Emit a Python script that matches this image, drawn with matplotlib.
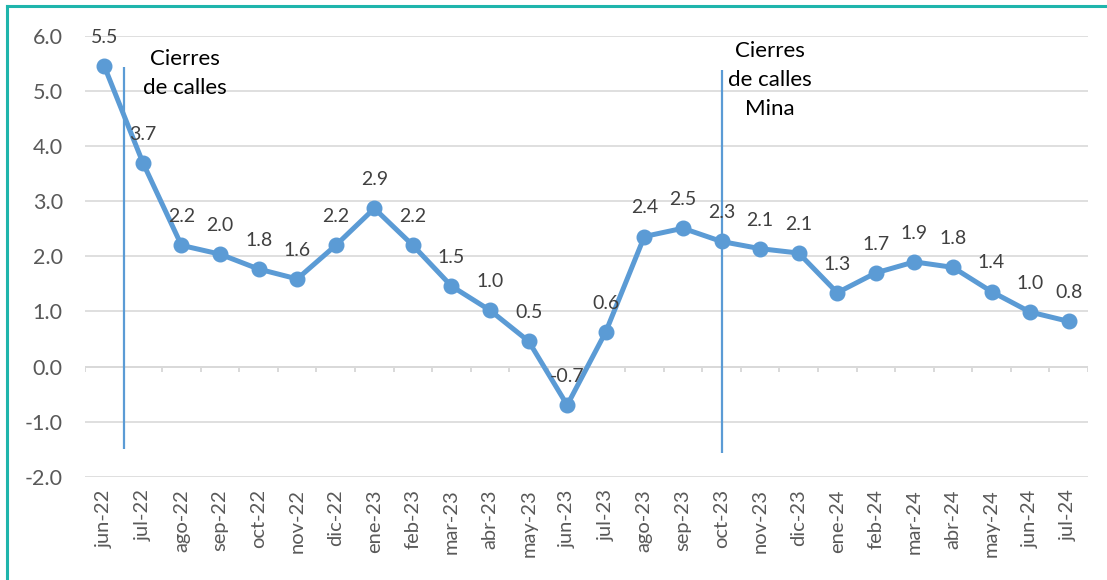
import numpy as np
import matplotlib
matplotlib.use("Agg")
import matplotlib.pyplot as plt
from matplotlib.lines import Line2D

meses = ["jun-22", "jul-22", "ago-22", "sep-22", "oct-22", "nov-22", "dic-22",
         "ene-23", "feb-23", "mar-23", "abr-23", "may-23", "jun-23", "jul-23",
         "ago-23", "sep-23", "oct-23", "nov-23", "dic-23", "ene-24", "feb-24",
         "mar-24", "abr-24", "may-24", "jun-24", "jul-24"]
valores = [5.45, 3.70, 2.20, 2.04, 1.77, 1.59, 2.20, 2.87, 2.20, 1.46, 1.02,
           0.46, -0.70, 0.63, 2.36, 2.51, 2.27, 2.14, 2.06, 1.34, 1.70, 1.90,
           1.80, 1.36, 0.99, 0.82]
etiquetas = ["5.5", "3.7", "2.2", "2.0", "1.8", "1.6", "2.2", "2.9", "2.2", "1.5",
             "1.0", "0.5", "-0.7", "0.6", "2.4", "2.5", "2.3", "2.1", "2.1", "1.3",
             "1.7", "1.9", "1.8", "1.4", "1.0", "0.8"]

# eventos: posicion en x, rango vertical, texto
eventos_x = [0.5, 16]
eventos_y0 = [-1.49, -1.56]
eventos_y1 = [5.44, 5.38]
eventos_txt = ["Cierres\nde calles", "Cierres\nde calles\nMina"]
eventos_tx = [2.1, 17.25]
eventos_ty = [5.76, 5.9]

plt.rcParams['font.family'] = ['Lato', 'DejaVu Sans']
azul = "#5B9BD5"
gris = "#595959"

fig = plt.figure(figsize=(11.07, 5.8), dpi=100)
ax = fig.add_axes([0.0768, 0.178, 0.906, 0.760])

x = np.arange(len(meses))
ax.plot(x, valores, color=azul, lw=3.6, marker="o", markersize=10.5, zorder=3)

for i in range(len(x)):
    ax.annotate(etiquetas[i], (x[i], valores[i]), xytext=(0, 14.5),
                textcoords="offset points", ha="center", va="bottom",
                fontsize=14, color="#404040", zorder=4)

for i in range(len(eventos_x)):
    ax.vlines(eventos_x[i], eventos_y0[i], eventos_y1[i], color=azul, lw=1.6, zorder=2)
    ax.text(eventos_tx[i], eventos_ty[i], eventos_txt[i], ha="center", va="top",
            fontsize=16, color="black", linespacing=1.55)

ax.set_xlim(-0.5, len(meses) - 0.5)
ax.set_ylim(-2.0, 6.0)
ax.set_yticks(np.arange(-2, 6.1, 1))
ax.set_yticklabels([f"{v:.1f}" for v in np.arange(-2, 6.1, 1)])
ax.yaxis.grid(True, color="#D9D9D9", lw=1.2)
ax.set_axisbelow(True)

# marcas del eje de categorias en 0
ax.axhline(0, color="#D9D9D9", lw=1.4, zorder=1)
bordes = np.arange(len(meses) + 1) - 0.5
ax.vlines(bordes, -0.09, 0, color="#D9D9D9", lw=1.4, zorder=1)

ax.set_xticks(x)
ax.set_xticklabels(meses, rotation=90)
ax.tick_params(axis="x", length=0, pad=9, labelsize=14.5, labelcolor=gris)
ax.tick_params(axis="y", length=0, pad=16, labelsize=15.5, labelcolor=gris)
for s in ax.spines.values():
    s.set_visible(False)

# borde de la figura (izquierda y arriba)
fig.add_artist(Line2D([0.0065, 0.0065], [0, 0.99], transform=fig.transFigure,
                      color="#1FB5AC", lw=2.2))
fig.add_artist(Line2D([0.0065, 1.0], [0.99, 0.99], transform=fig.transFigure,
                      color="#1FB5AC", lw=2.2))

fig.savefig("out.png", dpi=100)
